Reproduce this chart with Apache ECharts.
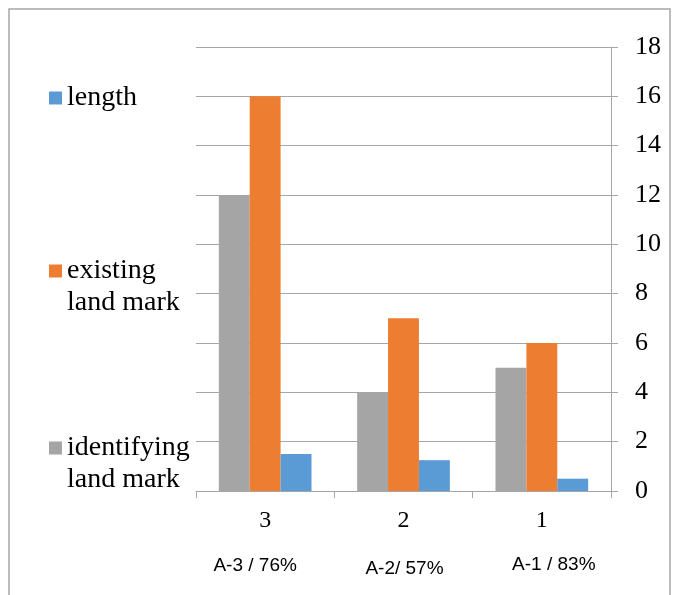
<!DOCTYPE html>
<html>
<head>
<meta charset="utf-8">
<script src="https://cdn.jsdelivr.net/npm/echarts@6/dist/echarts.min.js"></script>
<style>
  html, body { margin: 0; padding: 0; background: #ffffff; }
  #chart { width: 676px; height: 595px; }
</style>
</head>
<body>
<div id="chart"></div>
<script>
// Categories along the bottom axis
const categories = ['3', '2', '1'];
// Group captions printed under the category numbers
const groupCaptions = ['A-3 / 76%', 'A-2/ 57%', 'A-1 / 83%'];
// Series values per category
const identifyingLandMark = [12, 4, 5];
const existingLandMark = [16, 7, 6];
const lengthValues = [1.5, 1.25, 0.5];
// Value axis range
const yMin = 0, yMax = 18, yStep = 2;

const serif = 'Liberation Serif';
const gray = '#a5a5a5', orange = '#ed7d31', blue = '#5b9bd5';
const lineGray = '#a6a6a6';

const chart = echarts.init(document.getElementById('chart'), null, { renderer: 'canvas' });

// One legend entry per block; two-word names wrap, and a blank leading
// line keeps the swatch level with the first line of text.
function legendBlock(name, top, twoLines) {
  return {
    orient: 'vertical',
    left: 49,
    top: top,
    padding: 0,
    data: [name],
    icon: 'rect',
    itemWidth: 13,
    itemHeight: 13,
    selectedMode: false,
    formatter: function (n) {
      return twoLines ? '\n' + n.replace(' land mark', '\nland mark') : n;
    },
    textStyle: {
      fontFamily: serif,
      fontSize: 28,
      color: '#000',
      lineHeight: 32
    }
  };
}

chart.setOption({
  animation: false,
  backgroundColor: '#ffffff',
  grid: { left: 196, right: 65, top: 47, bottom: 104 },
  legend: [
    legendBlock('length', 82, false),
    legendBlock('existing land mark', 223, true),
    legendBlock('identifying land mark', 400, true)
  ],
  xAxis: {
    type: 'category',
    data: categories,
    axisLine: { show: true, lineStyle: { color: lineGray, width: 1 } },
    axisTick: { show: true, length: 7, lineStyle: { color: lineGray } },
    axisLabel: { fontFamily: serif, fontSize: 24, color: '#000', margin: 18 }
  },
  yAxis: {
    type: 'value',
    position: 'right',
    min: yMin,
    max: yMax,
    interval: yStep,
    axisLine: { show: true, lineStyle: { color: lineGray, width: 1 } },
    axisTick: { show: true, length: 7, lineStyle: { color: lineGray } },
    splitLine: { show: true, lineStyle: { color: lineGray, width: 1 } },
    axisLabel: { fontFamily: serif, fontSize: 26, color: '#000', margin: 24, align: 'left' }
  },
  series: [
    { name: 'identifying land mark', type: 'bar', data: identifyingLandMark,
      itemStyle: { color: gray }, barGap: '0%', barCategoryGap: '33%' },
    { name: 'existing land mark', type: 'bar', data: existingLandMark,
      itemStyle: { color: orange }, barGap: '0%', barCategoryGap: '33%' },
    { name: 'length', type: 'bar', data: lengthValues,
      itemStyle: { color: blue }, barGap: '0%', barCategoryGap: '33%' }
  ]
});

// Outer frame and group captions
const captionShift = [-10, 1, 12];
const captionY = [566, 569, 565];
const graphics = [{
  type: 'rect',
  shape: { x: 9, y: 9, width: 661, height: 620 },
  style: { fill: 'none', stroke: lineGray, lineWidth: 1.5 },
  silent: true
}];
groupCaptions.forEach(function (txt, i) {
  const cx = chart.convertToPixel({ xAxisIndex: 0 }, categories[i]);
  graphics.push({
    type: 'text',
    x: cx + captionShift[i],
    y: captionY[i],
    style: {
      text: txt,
      fontFamily: 'Liberation Sans',
      fontSize: 19,
      fill: '#000',
      align: 'center',
      verticalAlign: 'middle'
    },
    silent: true
  });
});
chart.setOption({ graphic: graphics });
</script>
</body>
</html>
